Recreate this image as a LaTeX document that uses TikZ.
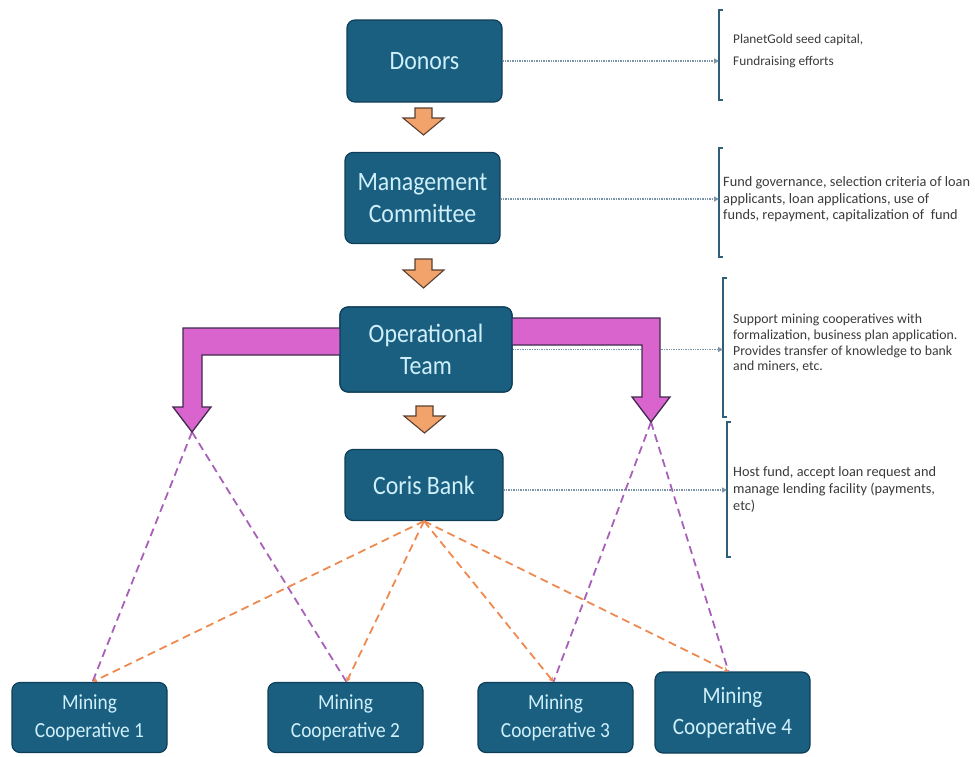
\documentclass[tikz,border=0pt]{standalone}
\usepackage{fontspec}
\setmainfont{Carlito}
\newfontfamily\boxfont[FakeStretch=0.9]{Carlito}
\newfontfamily\notefont{Carlito}
\usetikzlibrary{arrows.meta}
\definecolor{boxfill}{HTML}{1B5F80}
\definecolor{boxline}{HTML}{0F3E58}
\definecolor{boxtext}{HTML}{CFF0FA}
\definecolor{magfill}{HTML}{DA64CE}
\definecolor{magline}{HTML}{3E2A4E}
\definecolor{orfill}{HTML}{F2A26B}
\definecolor{orline}{HTML}{5A4030}
\definecolor{purdash}{HTML}{A860B8}
\definecolor{ordash}{HTML}{EE8A50}
\definecolor{dotcol}{HTML}{7A94A8}
\definecolor{brcol}{HTML}{2E5E7A}
\definecolor{notecol}{HTML}{3A3A3A}
\begin{document}
\begin{tikzpicture}[x=1pt,y=-1pt,
  box/.style={draw=boxline, line width=1.2pt, fill=boxfill, rounded corners=8pt,
    text=boxtext, align=center, inner sep=0pt,
    font=\boxfont\fontsize{26.5}{32}\selectfont},
  minebox/.style={box, minimum width=155pt, minimum height=70pt,
    font=\boxfont\fontsize{21.5}{28}\selectfont},
  note/.style={anchor=west, align=left, text=notecol, inner sep=0pt,
    font=\notefont\fontsize{14.3}{16.5}\selectfont},
  dotarrow/.style={draw=dotcol, line width=1.4pt, densely dotted,
    -{Triangle[length=5pt,width=5pt]}},
  bracket/.style={draw=brcol, line width=1.3pt},
  purpledash/.style={draw=purdash, line width=1.8pt, dash pattern=on 8pt off 5pt},
  orangedash/.style={draw=ordash, line width=1.8pt, dash pattern=on 8pt off 5pt,
    -{Stealth[length=5pt,width=5pt]}},
  magarrow/.style={fill=magfill, draw=magline, line width=1.3pt, line join=miter},
  orarrow/.style={fill=orfill, draw=orline, line width=1.1pt, line join=miter}
]
\useasboundingbox (0,0) rectangle (975,756);

% main nodes
\node[box, minimum width=155pt, minimum height=82pt] (donors) at (424.5,61) {Donors};
\node[box, minimum width=155pt, minimum height=91pt] (mgmt) at (422.5,198) {Management\\Committee};
\node[box, minimum width=172pt, minimum height=85pt] (ops) at (426,349.5) {Operational\\Team};
\node[box, minimum width=158pt, minimum height=71pt] (coris) at (424,485) {Coris Bank};

\node[minebox] (mc1) at (89.5,717.5) {Mining\\Cooperative 1};
\node[minebox] (mc2) at (345.5,717.5) {Mining\\Cooperative 2};
\node[minebox] (mc3) at (555.5,717.5) {Mining\\Cooperative 3};
\node[minebox, minimum height=81pt, font=\boxfont\fontsize{23.5}{31}\selectfont] (mc4) at (732.5,712.5) {Mining\\Cooperative 4};

% brackets and notes
\draw[bracket] (723,10) -- (719,10) -- (719,100) -- (723,100);
\draw[bracket] (723,148) -- (719,148) -- (719,257) -- (723,257);
\draw[bracket] (727,278) -- (723,278) -- (723,417) -- (727,417);
\draw[bracket] (731,422) -- (727,422) -- (727,557) -- (731,557);
\coordinate (b1) at (719,61);
\coordinate (b2) at (719,199);
\coordinate (b3) at (723,349.5);
\coordinate (b4) at (727,490);

\node[note, font=\notefont\fontsize{13.3}{22}\selectfont] (t1) at (733,51) {PlanetGold seed capital,\\Fundraising efforts};
\node[note] (t2) at (723,199.5) {Fund governance, selection criteria of loan\\applicants, loan applications, use of\\funds, repayment, capitalization of \ fund};
\node[note, font=\notefont\fontsize{13.8}{15.7}\selectfont] (t3) at (733,343.5) {Support mining cooperatives with\\formalization, business plan application.\\Provides transfer of knowledge to bank\\and miners, etc.};
\node[note, font=\notefont\fontsize{14.3}{17}\selectfont] (t4) at (733,490) {Host fund, accept loan request and\\manage lending facility (payments,\\etc)};

% dotted arrows
\draw[dotarrow] (donors.east) -- (b1);
\draw[dotarrow] (mgmt.east |- b2) -- (b2);
\draw[dotarrow] (ops.east) -- (b3);
\draw[dotarrow] (coris.east |- b4) -- (b4);

% dashed links
\coordinate (ltip) at (192,432);
\coordinate (rtip) at (651,422);
\draw[purpledash] (ltip) -- ([xshift=3pt]mc1.north);
\draw[purpledash] (ltip) -- ([xshift=1pt]mc2.north);
\draw[purpledash] (rtip) -- ([xshift=-2pt]mc3.north);
\draw[purpledash] (rtip) -- ([xshift=-4pt]mc4.north);
\draw[orangedash] (coris.south) -- ([xshift=3pt]mc1.north);
\draw[orangedash] (coris.south) -- ([xshift=1pt]mc2.north);
\draw[orangedash] (coris.south) -- ([xshift=-2pt]mc3.north);
\draw[orangedash] (coris.south) -- ([xshift=-4pt]mc4.north);

% magenta block arrows
\draw[magarrow] (345,328) -- (183,328) -- (183,407) -- (173,407) -- (192,432)
  -- (211,407) -- (202,407) -- (202,355) -- (345,355) -- cycle;
\draw[magarrow] (507,318) -- (660,318) -- (660,397) -- (670,397) -- (651,422)
  -- (632,397) -- (642,397) -- (642,345) -- (507,345) -- cycle;
% redraw ops box over arrow joins
\node[box, minimum width=172pt, minimum height=85pt] at (ops) {Operational\\Team};

% orange block arrows
\draw[orarrow, shift={(423.5,108)}] (-8.5,0) -- (8.5,0) -- (8.5,10) -- (20.5,10)
  -- (0,27) -- (-20.5,10) -- (-8.5,10) -- cycle;
\draw[orarrow, shift={(423.5,259)}] (-8.5,0) -- (8.5,0) -- (8.5,11) -- (20.5,11)
  -- (0,29) -- (-20.5,11) -- (-8.5,11) -- cycle;
\draw[orarrow, shift={(424.5,406)}] (-8.5,0) -- (8.5,0) -- (8.5,10) -- (20.5,10)
  -- (0,27) -- (-20.5,10) -- (-8.5,10) -- cycle;
\end{tikzpicture}
\end{document}
